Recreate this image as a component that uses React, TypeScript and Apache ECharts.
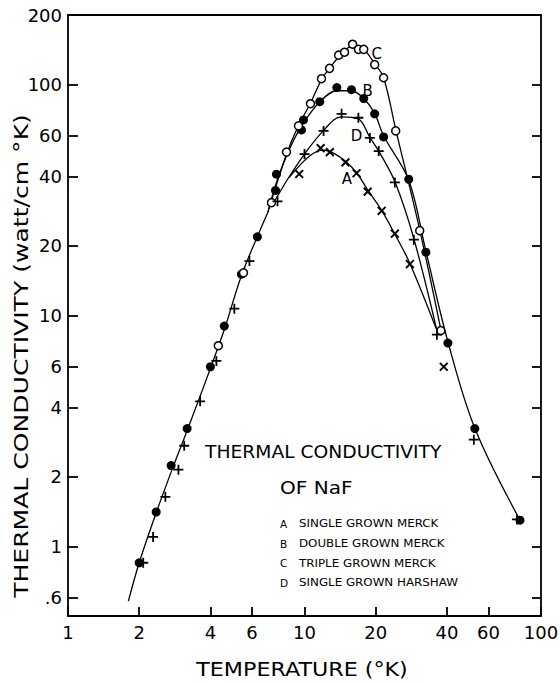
import React, { useEffect, useRef } from 'react';
import * as echarts from 'echarts';

// Axis ranges and tick labels (temperature in K, conductivity in watt/cm K)
const xRange = [1, 100];
const yRange = [0.5, 200];
const xTicks = [1, 2, 4, 6, 10, 20, 40, 60, 100];
const yTicks = [0.6, 1, 2, 4, 6, 10, 20, 40, 60, 100, 200];

// Measured points: [temperature, conductivity]
const pointsA = [
  [9.5, 41], [11.7, 53], [12.8, 51], [14.9, 46], [16.6, 41.3], [18.5, 34.4],
  [21.2, 28.4], [24.1, 22.6], [27.9, 16.7], [38.8, 6.0],
];
const pointsB = [
  [2.0, 0.85], [2.36, 1.41], [2.73, 2.24], [3.19, 3.24], [4.0, 6.0], [4.58, 9.0],
  [5.41, 15.1], [6.32, 21.9], [7.54, 34.8], [7.61, 40.9], [9.71, 63.6], [9.9, 70.3],
  [11.6, 84.3], [13.7, 97], [15.8, 95], [17.8, 87], [19.8, 74.7], [21.6, 59.3],
  [27.6, 38.9], [32.6, 18.8], [40.4, 7.6], [52.5, 3.24], [81.5, 1.3],
];
const pointsC = [
  [4.32, 7.4], [5.52, 15.3], [7.25, 30.8], [8.39, 51], [9.43, 66.2], [10.6, 82.6],
  [11.8, 106], [12.76, 117.5], [13.94, 134], [14.77, 138], [15.97, 149.5],
  [16.9, 142], [17.8, 142], [19.8, 122], [21.6, 107], [24.3, 63], [30.7, 23.3],
  [37.7, 8.6],
];
const pointsD = [
  [2.08, 0.85], [2.29, 1.1], [2.58, 1.64], [2.93, 2.15], [3.1, 2.73], [3.62, 4.25],
  [4.24, 6.36], [5.05, 10.7], [5.85, 17.2], [7.69, 31.2], [10.0, 50], [12.04, 63],
  [14.35, 74.7], [16.9, 71.8], [18.9, 58.7], [20.6, 51.5], [24.1, 37.7], [29.0, 21.3],
  [36.3, 8.26], [52.0, 2.9], [79.1, 1.31],
];

// Hand-drawn fitted curves
const curveCommon = [
  [1.8, 0.58], [2.0, 0.85], [2.36, 1.4], [2.8, 2.25], [3.2, 3.2], [4.0, 5.9],
  [4.6, 8.8], [5.4, 14.8], [6.3, 21.8], [7.0, 28],
];
const curveB = [
  [7.0, 28], [7.6, 37.5], [8.6, 52], [9.8, 67], [11.6, 84], [13.7, 94], [15.8, 94],
  [17.8, 87], [19.8, 75], [21.6, 60], [27.6, 38.5], [32.6, 19], [40.4, 7.7],
  [52.5, 3.25], [81.5, 1.3],
];
const curveC = [
  [7.0, 28], [8.4, 50], [9.4, 66], [10.6, 83], [11.8, 105], [12.8, 118], [14.0, 132],
  [16.0, 147], [17.6, 144], [19.8, 123], [21.6, 107], [24.3, 64], [30.7, 23.5],
  [37.7, 8.7],
];
const curveD = [
  [7.3, 30], [8.5, 39], [10.0, 50], [12.0, 63], [14.3, 72.5], [16.9, 71], [18.9, 59],
  [20.6, 51.5], [24.1, 38], [29.0, 21.5], [36.3, 8.6],
];
const curveA = [
  [8.6, 39.5], [10.5, 49], [12.0, 52], [13.5, 50], [14.9, 46.5], [16.6, 41.5],
  [18.5, 35], [21.2, 28.5], [24.1, 22.5], [27.9, 16.8], [36.0, 8.8],
];

// Curve letter labels: [name, temperature, conductivity]
const curveLabels: [string, number, number][] = [
  ['C', 20.2, 136], ['B', 18.5, 94], ['D', 16.6, 60], ['A', 15.1, 39],
];

const legendRows: [string, string][] = [
  ['A', 'SINGLE GROWN MERCK'],
  ['B', 'DOUBLE GROWN MERCK'],
  ['C', 'TRIPLE GROWN MERCK'],
  ['D', 'SINGLE GROWN HARSHAW'],
];

const FONT = '"DejaVu Sans", sans-serif';
const L = (v: number) => Math.log10(v);
const toLog = (arr: number[][]) => arr.map(([t, k]) => [L(t), L(k)]);
const fmt = (ticks: number[]) => (v: number) => {
  const t = ticks.find((tt) => Math.abs(L(tt) - v) < 1e-6);
  if (t === undefined) return '';
  return t < 1 ? String(t).replace(/^0/, '') : String(t);
};

const PLUS = 'path://M0,4.1 H10 V5.9 H0 Z M4.1,0 H5.9 V10 H4.1 Z';

export default function App() {
  const ref = useRef<HTMLDivElement>(null);
  useEffect(() => {
    if (!ref.current) return;
    const chart = echarts.init(ref.current, undefined, { renderer: 'svg' });

    const lineSeries = (data: number[][]) => ({
      type: 'line',
      data: toLog(data),
      smooth: 0.35,
      symbol: 'none',
      lineStyle: { color: '#000', width: 1.3, opacity: 1 },
      z: 2,
      silent: true,
    });

    const axisCommon = {
      type: 'value',
      splitLine: { show: false },
      axisLine: { show: true, onZero: false, lineStyle: { color: '#000', width: 1.8 } },
    };

    const text = (o: any) => ({
      type: 'text',
      silent: true,
      ...o,
      style: {
        fill: '#000',
        ...o.style,
      },
    });

    const graphics: any[] = [
      text({
        x: 21, y: 356, rotation: Math.PI / 2, scaleX: 1.32,
        style: { text: 'THERMAL CONDUCTIVITY (watt/cm °K)', font: `19px ${FONT}`, align: 'center', verticalAlign: 'middle', textAlign: 'center', textVerticalAlign: 'middle' },
      }),
      text({
        x: 302, y: 670, scaleX: 1.17,
        style: { text: 'TEMPERATURE (°K)', font: `19px ${FONT}`, align: 'center', verticalAlign: 'middle', textAlign: 'center', textVerticalAlign: 'middle' },
      }),
      text({
        x: 205, y: 452, scaleX: 1.1,
        style: { text: 'THERMAL CONDUCTIVITY', font: `17px ${FONT}`, align: 'left', verticalAlign: 'middle', textAlign: 'left', textVerticalAlign: 'middle' },
      }),
      text({
        x: 280, y: 488, scaleX: 1.18,
        style: { text: 'OF NaF', font: `17px ${FONT}`, align: 'left', verticalAlign: 'middle', textAlign: 'left', textVerticalAlign: 'middle' },
      }),
    ];
    legendRows.forEach(([k, d], i) => {
      const y = 524 + i * 19.7;
      graphics.push(text({
        x: 280, y,
        style: { text: k, font: `10.5px ${FONT}`, align: 'left', verticalAlign: 'middle', textAlign: 'left', textVerticalAlign: 'middle' },
      }));
      graphics.push(text({
        x: 299, y, scaleX: 1.13,
        style: { text: d, font: `10.5px ${FONT}`, align: 'left', verticalAlign: 'middle', textAlign: 'left', textVerticalAlign: 'middle' },
      }));
    });

    chart.setOption({
      animation: false,
      backgroundColor: '#fff',
      grid: { left: 68, right: 19, top: 15, bottom: 67, outerBoundsMode: 'none', containLabel: false },
      xAxis: [
        {
          ...axisCommon,
          position: 'bottom',
          min: L(xRange[0]), max: L(xRange[1]),
          axisTick: { inside: true, length: 9, customValues: xTicks.map(L), lineStyle: { color: '#000', width: 1.8 } },
          axisLabel: { customValues: xTicks.map(L), formatter: fmt(xTicks), color: '#000', fontFamily: FONT, fontSize: 18, margin: 7 },
        },
        {
          ...axisCommon,
          position: 'top',
          min: L(xRange[0]), max: L(xRange[1]),
          axisTick: { show: false },
          axisLabel: { show: false },
        },
      ],
      yAxis: [
        {
          ...axisCommon,
          position: 'left',
          min: L(yRange[0]), max: L(yRange[1]),
          axisTick: { inside: true, length: 10, customValues: yTicks.map(L), lineStyle: { color: '#000', width: 1.8 } },
          axisLabel: { customValues: yTicks.map(L), formatter: fmt(yTicks), color: '#000', fontFamily: FONT, fontSize: 18, margin: 6 },
        },
        {
          ...axisCommon,
          position: 'right',
          min: L(yRange[0]), max: L(yRange[1]),
          axisTick: { inside: true, length: 9, customValues: yTicks.map(L), lineStyle: { color: '#000', width: 1.8 } },
          axisLabel: { show: false },
        },
      ],
      graphic: graphics,
      series: [
        lineSeries(curveCommon),
        lineSeries(curveA),
        lineSeries(curveB),
        lineSeries(curveC),
        lineSeries(curveD),
        {
          type: 'scatter', name: 'A', data: toLog(pointsA), symbol: PLUS, symbolSize: 11,
          symbolRotate: 45, itemStyle: { color: '#000', opacity: 1 }, z: 5,
        },
        {
          type: 'scatter', name: 'B', data: toLog(pointsB), symbol: 'circle', symbolSize: 9,
          itemStyle: { color: '#000', opacity: 1 }, z: 5,
        },
        {
          type: 'scatter', name: 'C', data: toLog(pointsC), symbol: 'circle', symbolSize: 8,
          itemStyle: { color: '#fff', borderColor: '#000', borderWidth: 1.5, opacity: 1 }, z: 5,
        },
        {
          type: 'scatter', name: 'D', data: toLog(pointsD), symbol: PLUS, symbolSize: 10,
          itemStyle: { color: '#000', opacity: 1 }, z: 5,
        },
        {
          type: 'scatter', name: 'labels', symbolSize: 0, silent: true, z: 6,
          itemStyle: { opacity: 1 },
          data: curveLabels.map(([n, t, k]) => ({ name: n, value: [L(t), L(k)] })),
          label: {
            show: true, position: 'inside', formatter: '{b}', color: '#000',
            fontFamily: FONT, fontSize: 15, opacity: 1,
          },
        },
      ],
    });

    return () => chart.dispose();
  }, []);

  return (
    <div
      ref={ref}
      style={{ position: 'absolute', left: 0, top: 0, width: 560, height: 683, background: '#fff' }}
    />
  );
}
